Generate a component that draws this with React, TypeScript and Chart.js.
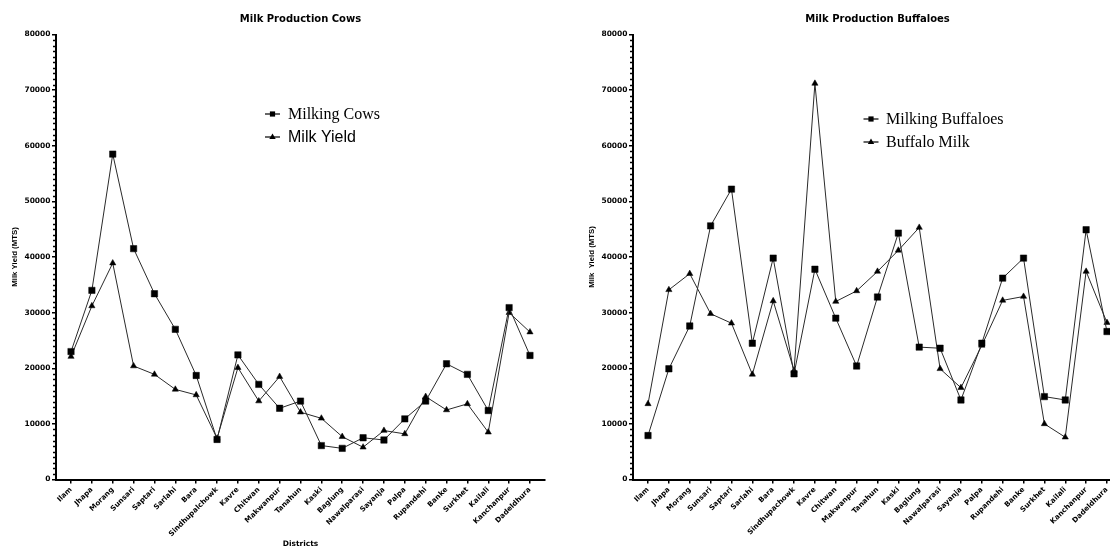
import React, { useEffect, useRef } from 'react';
import { Chart, registerables } from 'chart.js';

Chart.register(...registerables);

// ---------- data ----------
const cowDistricts = ['Ilam', 'Jhapa', 'Morang', 'Sunsari', 'Saptari', 'Sarlahi', 'Bara', 'Sindhupalchowk', 'Kavre', 'Chitwan', 'Makwanpur', 'Tanahun', 'Kaski', 'Baglung', 'Nawalparasi', 'Sayanja', 'Palpa', 'Rupandehi', 'Banke', 'Surkhet', 'Kailali', 'Kanchanpur', 'Dadeldhura'];
const buffaloDistricts = ['Ilam', 'Jhapa', 'Morang', 'Sunsari', 'Saptari', 'Sarlahi', 'Bara', 'Sindhupachowk', 'Kavre', 'Chitwan', 'Makwanpur', 'Tanahun', 'Kaski', 'Baglung', 'Nawalparasi', 'Sayanja', 'Palpa', 'Rupandehi', 'Banke', 'Surkhet', 'Kailali', 'Kanchanpur', 'Dadeldhura'];

const milkingCows = [23000, 34000, 58500, 41500, 33400, 27000, 18700, 7200, 22400, 17100, 12800, 14100, 6100, 5600, 7500, 7100, 10900, 14100, 20800, 18900, 12400, 30900, 22300];
const cowMilkYield = [22100, 31200, 38900, 20400, 18900, 16200, 15200, 7400, 20100, 14100, 18500, 12100, 11000, 7700, 5800, 8800, 8200, 14900, 12500, 13600, 8500, 30000, 26500];

const milkingBuffaloes = [7900, 19900, 27600, 45600, 52200, 24500, 39800, 19000, 37800, 29000, 20400, 32800, 44300, 23800, 23600, 14300, 24500, 36200, 39800, 14900, 14300, 44900, 26600];
const buffaloMilk = [13600, 34100, 37000, 29800, 28100, 18900, 32100, 19600, 71200, 32000, 33900, 37400, 41200, 45300, 19900, 16500, 24100, 32200, 32900, 10000, 7600, 37400, 28200];

const yMin = 0;
const yMax = 80000;
const yMajorStep = 10000;
const yMinorStep = 1000;

// ---------- styling ----------
const BOLD_SANS = 'DejaVu Sans';
const INK = '#000';
const LINE = '#2a2a2a';

type LegendItem = { text: string; family: string; style: 'rect' | 'triangle' };

interface PanelSpec {
  title: string;
  titleX: number;
  titleY: number;
  yTitle: string;
  xTitle: string | null;
  labels: string[];
  series: { label: string; data: number[]; style: 'rect' | 'triangle' }[];
  legend: LegendItem[];
  legendLineX: [number, number];
  legendTextX: number;
  legendRowsY: number[];
  xMin: number;
  xMax: number;
}

const decorPlugin = {
  id: 'decor',
  afterDraw(chart: any, _args: any, opts: any) {
    const ctx = chart.ctx as CanvasRenderingContext2D;
    const spec: PanelSpec = opts.spec;
    if (!spec) return;
    ctx.save();
    // minor ticks on y axis
    const ys = chart.scales.y;
    ctx.strokeStyle = INK;
    ctx.lineWidth = 1.5;
    for (let v = yMin; v <= yMax; v += yMinorStep) {
      if (v % yMajorStep === 0) continue;
      const py = Math.round(ys.getPixelForValue(v)) + 0.5;
      ctx.beginPath();
      ctx.moveTo(ys.right - 3, py);
      ctx.lineTo(ys.right, py);
      ctx.stroke();
    }
    // title
    ctx.fillStyle = INK;
    ctx.font = `bold 10px "${BOLD_SANS}"`;
    ctx.textAlign = 'center';
    ctx.textBaseline = 'middle';
    ctx.fillText(spec.title, spec.titleX, spec.titleY);
    // legend
    spec.legend.forEach((item, i) => {
      const y = spec.legendRowsY[i];
      const [x1, x2] = spec.legendLineX;
      const mx = (x1 + x2) / 2;
      ctx.strokeStyle = INK;
      ctx.lineWidth = 1.2;
      ctx.beginPath();
      ctx.moveTo(x1, y);
      ctx.lineTo(x2, y);
      ctx.stroke();
      ctx.fillStyle = INK;
      ctx.beginPath();
      if (item.style === 'rect') {
        ctx.rect(mx - 2.6, y - 2.6, 5.2, 5.2);
      } else {
        ctx.moveTo(mx, y - 3.6);
        ctx.lineTo(mx + 3.2, y + 1.9);
        ctx.lineTo(mx - 3.2, y + 1.9);
        ctx.closePath();
      }
      ctx.fill();
      ctx.font = `16px "${item.family}"`;
      ctx.textAlign = 'left';
      ctx.textBaseline = 'middle';
      ctx.fillText(item.text, spec.legendTextX, y + 1);
    });
    ctx.restore();
  },
};

function buildConfig(spec: PanelSpec): any {
  const labels = spec.labels;
  return {
    type: 'line',
    data: {
      datasets: spec.series.map((s) => ({
        label: s.label,
        data: s.data.map((v, i) => ({ x: i, y: v })),
        borderColor: LINE,
        borderWidth: 1,
        pointStyle: s.style,
        pointRadius: s.style === 'rect' ? 4.5 : 3.6,
        pointBorderWidth: 0.5,
        pointBackgroundColor: INK,
        pointBorderColor: INK,
        tension: 0,
        fill: false,
      })),
    },
    options: {
      responsive: false,
      animation: false,
      events: [],
      layout: { padding: { top: 34.5, right: 10, bottom: 0, left: 0 } },
      plugins: {
        legend: { display: false },
        title: { display: false },
        tooltip: { enabled: false },
        decor: { spec },
      },
      scales: {
        x: {
          type: 'linear',
          min: spec.xMin,
          max: spec.xMax,
          afterBuildTicks: (scale: any) => {
            scale.ticks = labels.map((_, i) => ({ value: i }));
          },
          afterFit: (scale: any) => {
            scale.height = 69.5;
          },
          ticks: {
            autoSkip: false,
            minRotation: 45,
            maxRotation: 45,
            padding: 2,
            color: INK,
            font: { family: BOLD_SANS, weight: 'bold', size: 7.2 },
            callback: (_v: any, index: number) => labels[index],
          },
          grid: { drawOnChartArea: false, drawTicks: true, tickLength: 4, color: INK, lineWidth: 1.5 },
          border: { display: true, color: INK, width: 2 },
          title: {
            display: !!spec.xTitle,
            text: spec.xTitle || '',
            color: INK,
            font: { family: BOLD_SANS, weight: 'bold', size: 7.5, lineHeight: 1.2 },
            padding: { top: 0, bottom: 0 },
          },
        },
        y: {
          min: yMin,
          max: yMax,
          afterFit: (scale: any) => {
            scale.width = 56;
          },
          ticks: {
            stepSize: yMajorStep,
            padding: 1.5,
            color: INK,
            font: { family: BOLD_SANS, weight: 'bold', size: 7.5 },
            callback: (v: any) => String(v),
          },
          grid: { drawOnChartArea: false, drawTicks: true, tickLength: 4, color: INK, lineWidth: 1.5 },
          border: { display: true, color: INK, width: 2 },
          title: {
            display: true,
            text: spec.yTitle,
            color: INK,
            font: { family: 'Liberation Sans', weight: 'bold', size: 7.8, lineHeight: 1.2 },
            padding: { top: 10, bottom: 0 },
          },
        },
      },
    },
    plugins: [decorPlugin],
  };
}

const cowSpec: PanelSpec = {
  title: 'Milk Production Cows',
  titleX: 300.5,
  titleY: 19.5,
  yTitle: 'Milk Yield (MTS)',
  xTitle: 'Districts',
  labels: cowDistricts,
  series: [
    { label: 'Milking Cows', data: milkingCows, style: 'rect' },
    { label: 'Milk Yield', data: cowMilkYield, style: 'triangle' },
  ],
  legend: [
    { text: 'Milking Cows', family: 'Liberation Serif', style: 'rect' },
    { text: 'Milk Yield', family: 'Liberation Sans', style: 'triangle' },
  ],
  legendLineX: [265, 280],
  legendTextX: 288,
  legendRowsY: [114, 137],
  xMin: -0.72,
  xMax: 22.72,
};

const buffaloSpec: PanelSpec = {
  title: 'Milk Production Buffaloes',
  titleX: 300.5,
  titleY: 19.5,
  yTitle: 'Milk  Yield (MTS)',
  xTitle: null,
  labels: buffaloDistricts,
  series: [
    { label: 'Milking Buffaloes', data: milkingBuffaloes, style: 'rect' },
    { label: 'Buffalo Milk', data: buffaloMilk, style: 'triangle' },
  ],
  legend: [
    { text: 'Milking Buffaloes', family: 'Liberation Serif', style: 'rect' },
    { text: 'Buffalo Milk', family: 'Liberation Serif', style: 'triangle' },
  ],
  legendLineX: [286.5, 301.5],
  legendTextX: 309,
  legendRowsY: [119, 142],
  xMin: -0.72,
  xMax: 22.72,
};

function Panel({ spec, left }: { spec: PanelSpec; left: number }) {
  const ref = useRef<HTMLCanvasElement | null>(null);
  useEffect(() => {
    if (!ref.current) return;
    const chart = new Chart(ref.current, buildConfig(spec));
    return () => chart.destroy();
  }, [spec]);
  return (
    <canvas
      ref={ref}
      width={555}
      height={549}
      style={{ position: 'absolute', left, top: 0, width: 555, height: 549, display: 'block' }}
    />
  );
}

export default function App() {
  return (
    <div
      style={{
        position: 'absolute',
        left: 0,
        top: 0,
        width: 1110,
        height: 549,
        overflow: 'hidden',
        background: '#fff',
      }}
    >
      <Panel spec={cowSpec} left={0} />
      <Panel spec={buffaloSpec} left={577} />
    </div>
  );
}
